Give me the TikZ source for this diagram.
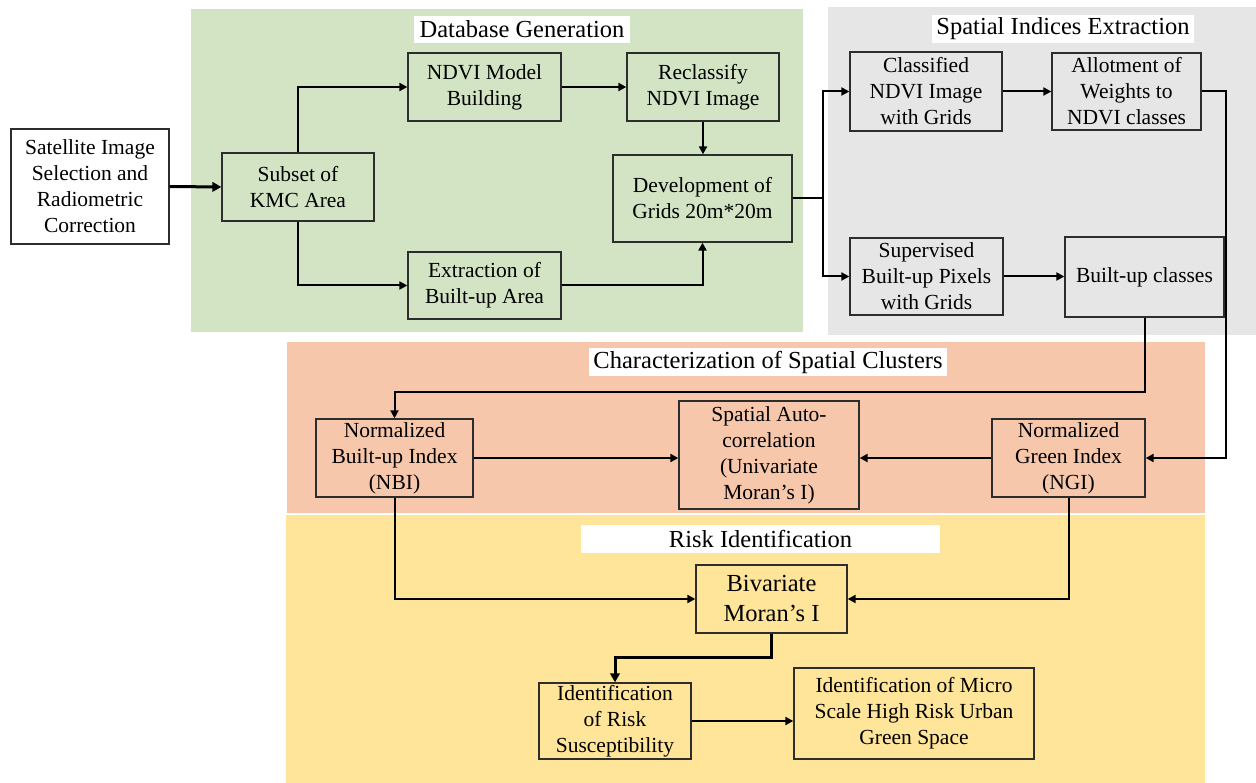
\documentclass[tikz,border=0pt]{standalone}
\usepackage{fontspec}
\setmainfont{Liberation Serif}
\usetikzlibrary{arrows.meta,calc}
\definecolor{bggreen}{RGB}{211,228,197}
\definecolor{bggray}{RGB}{231,230,230}
\definecolor{bgsalmon}{RGB}{247,199,172}
\definecolor{bgyellow}{RGB}{255,229,153}
\definecolor{boxline}{RGB}{45,45,45}
\begin{document}
\begin{tikzpicture}[x=1pt,y=-1pt,
  box/.style={draw=boxline, line width=1.3pt, inner sep=0pt, align=center,
    font=\fontsize{21.5}{26}\selectfont},
  bigbox/.style={box, font=\fontsize{24.5}{30}\selectfont},
  title/.style={fill=white, inner sep=0pt, font=\fontsize{24.5}{29}\selectfont},
  arr/.style={-{Triangle[length=8pt,width=8pt]}, line width=2pt, black},
  thickarr/.style={-{Triangle[length=9pt,width=9.5pt]}, line width=3pt, black},
  plain/.style={line width=2pt, black}]
\useasboundingbox (0,0) rectangle (1256,783);
% background regions
\fill[bggreen] (191,9) rectangle (803,332);
\fill[bggray] (828,7) rectangle (1256,335);
\fill[bgsalmon] (287,342) rectangle (1205,513);
\fill[bgyellow] (286,515) rectangle (1205,783);
% titles
\node[title, minimum width=216pt, minimum height=27pt] (t1) at (522,29.5) {Database Generation};
\node[title, minimum width=262pt, minimum height=28pt] (t2) at (1063,29) {Spatial Indices Extraction};
\node[title, minimum width=358pt, minimum height=28pt] (t3) at (768,362) {Characterization of Spatial Clusters};
\node[title, minimum width=359pt, minimum height=28pt] (t4) at (760.5,539) {Risk Identification};
% boxes
\node[box, fill=white, minimum width=158pt, minimum height=115pt] (sat) at (90,186.5) {Satellite Image\\Selection and\\Radiometric\\Correction};
\node[box, fill=bggreen, minimum width=152pt, minimum height=68pt] (subset) at (298,187) {Subset of\\KMC Area};
\node[box, fill=bggreen, minimum width=153pt, minimum height=68pt] (ndvi) at (484.5,87) {NDVI Model\\Building};
\node[box, fill=bggreen, minimum width=152pt, minimum height=68pt] (recl) at (703,87) {Reclassify\\NDVI Image};
\node[box, fill=bggreen, minimum width=179pt, minimum height=87pt] (dev) at (702.5,198.5) {Development of\\Grids 20m*20m};
\node[box, fill=bggreen, minimum width=153pt, minimum height=67pt] (extr) at (484.5,285.5) {Extraction of\\Built-up Area};
\node[box, fill=bggray, minimum width=152pt, minimum height=79pt] (class) at (926,91.5) {Classified\\NDVI Image\\with Grids};
\node[box, fill=bggray, minimum width=149pt, minimum height=77pt] (allot) at (1126.5,91.5) {Allotment of\\Weights to\\NDVI classes};
\node[box, fill=bggray, minimum width=153pt, minimum height=77pt] (sup) at (926.5,276.5) {Supervised\\Built-up Pixels\\with Grids};
\node[box, fill=bggray, minimum width=159pt, minimum height=80pt] (built) at (1144.5,277) {Built-up classes};
\node[box, fill=bgsalmon, minimum width=157pt, minimum height=78pt] (nbi) at (394.5,458) {Normalized\\Built-up Index\\(NBI)};
\node[box, fill=bgsalmon, minimum width=180pt, minimum height=108pt] (spa) at (769,455) {Spatial Auto-\\correlation\\(Univariate\\Moran’s I)};
\node[box, fill=bgsalmon, minimum width=153pt, minimum height=78pt] (ngi) at (1068.5,458) {Normalized\\Green Index\\(NGI)};
\node[bigbox, fill=bgyellow, minimum width=151pt, minimum height=68pt] (biv) at (771.5,599) {Bivariate\\Moran’s I};
\node[box, fill=bgyellow, minimum width=152pt, minimum height=76pt] (risk) at (615,721) {Identification\\of Risk\\Susceptibility};
\node[box, fill=bgyellow, minimum width=240pt, minimum height=91pt] (micro) at (914,713.5) {Identification of Micro\\Scale High Risk Urban\\Green Space};
% connectors
\draw[thickarr] (sat.east) -- (subset.west);
\draw[arr] (subset.north) |- (ndvi.west);
\draw[arr] (subset.south) |- (extr.west);
\draw[arr] (ndvi.east) -- (recl.west);
\draw[arr] (recl.south) -- (recl.south |- dev.north);
\draw[arr] (extr.east) -| (dev.south);
\coordinate (split) at ($(dev.east)+(30,0)$);
\draw[plain] (dev.east) -- (split);
\draw[arr] (split) |- (class.west);
\draw[arr] (split) |- (sup.west);
\draw[arr] (class.east) -- (allot.west);
\draw[arr] (sup.east) -- (sup.east -| built.west);
\draw[arr] (allot.east) -- ++(24,0) |- (ngi.east);
\draw[arr] (built.south) -- ++(0,74) -| (nbi.north);
\draw[arr] (nbi.east) -- (nbi.east -| spa.west);
\draw[arr] (ngi.west) -- (ngi.west -| spa.east);
\draw[arr] (nbi.south) |- (biv.west);
\draw[arr] (ngi.south) |- (biv.east);
\draw[thickarr] (biv.south) -- ++(0,24) -| (risk.north);
\draw[arr] (risk.east) -- (risk.east -| micro.west);
\end{tikzpicture}
\end{document}
